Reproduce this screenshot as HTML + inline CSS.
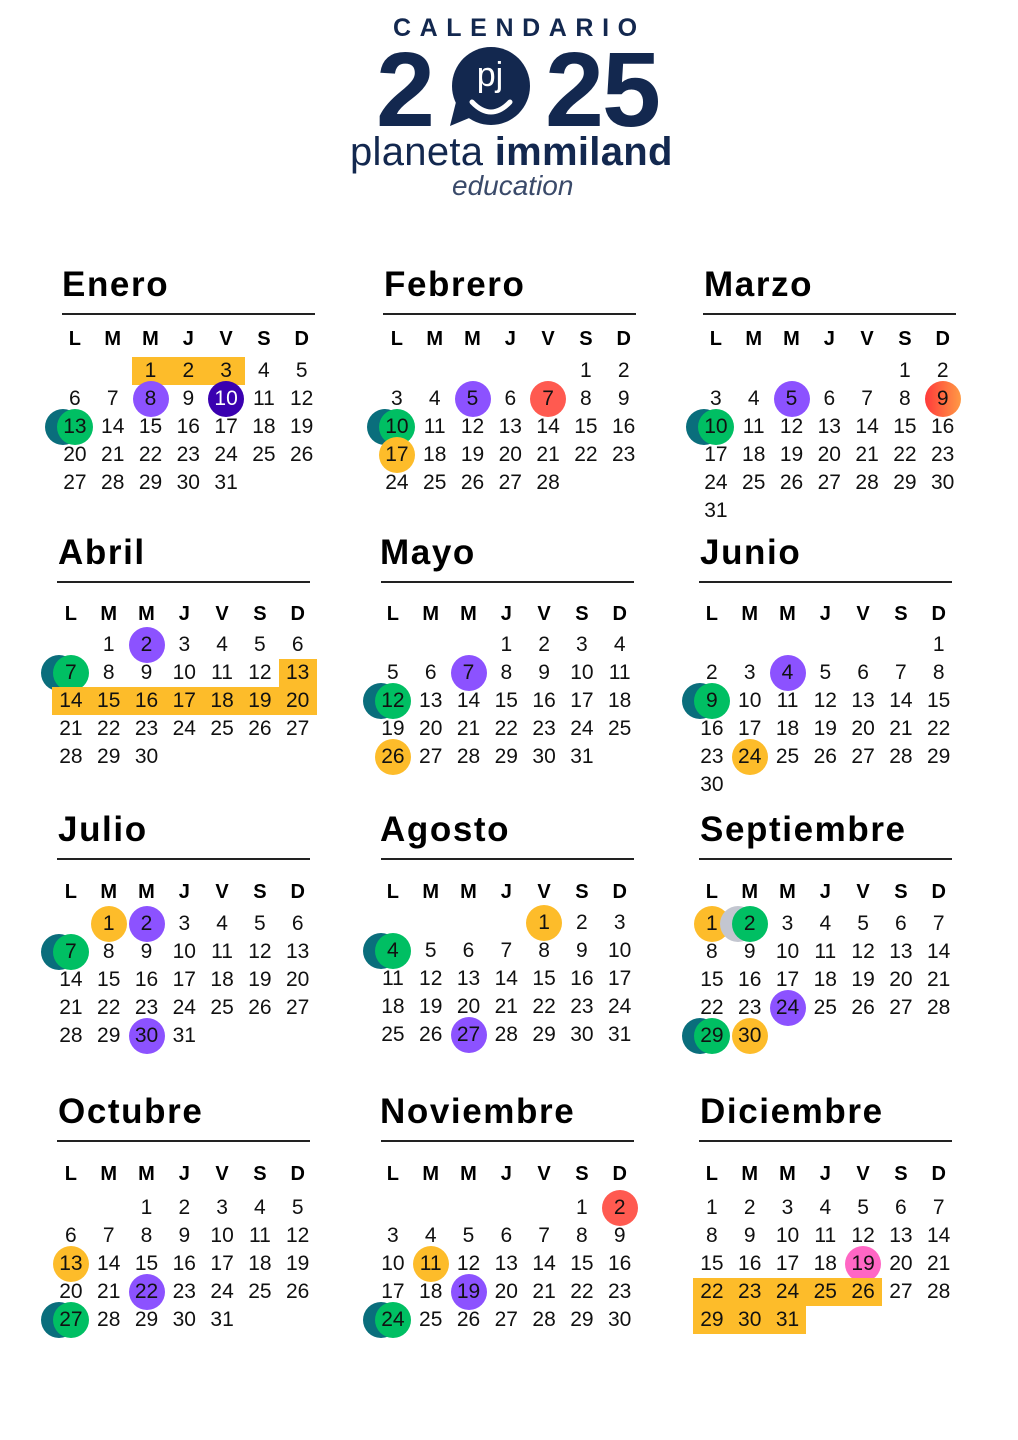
<!DOCTYPE html>
<html><head><meta charset="utf-8"><style>
*{margin:0;padding:0;box-sizing:border-box}
body{width:1018px;height:1440px;background:#fff;position:relative;overflow:hidden;font-family:"Liberation Sans",sans-serif;color:#111}
.m{position:absolute;width:266px}
.t{position:absolute;top:-46px;font-weight:bold;font-size:35px;line-height:36px;color:#000;letter-spacing:1.6px}
.ln{position:absolute;top:0;width:253px;height:2px;background:#222}
.h,.g{position:absolute;left:0;display:grid;grid-template-columns:repeat(7,37.8px)}
.h span{height:28px;line-height:28px;text-align:center;font-weight:bold;font-size:20px;color:#000}
.g{grid-auto-rows:28px}
.g span{position:relative;height:28px;line-height:28px;text-align:center;font-size:21px;color:#111;z-index:1}
.g span.c::before{content:"";position:absolute;left:1px;top:-4px;width:36px;height:36px;border-radius:50%;background:var(--b);z-index:-1}
.p{--b:#8c52ff}.dp{--b:#3a00b0;color:#fff!important}.y{--b:#fdbc2a}.r{--b:#ff5a50}
.o{--b:linear-gradient(90deg,#ff3a3a,#ff9a45)}.pk{--b:#ff66c4}
.gr{--b:#00bf63}.gr::before{box-shadow:-12px 0 0 #0a6e7c}
.gg{--b:#00bf63}.gg::before{box-shadow:-12px 0 0 #c3c6d0}
.g span.yb{background:#fdbc2a}
.logo{position:absolute;color:#13284f;font-weight:bold}
</style></head><body>

<div class="logo" style="left:393px;top:14px;font-size:25px;letter-spacing:8.6px;line-height:28px">CALENDARIO</div>
<div class="logo" style="left:376px;top:37px;font-size:106px;line-height:106px;letter-spacing:-2px">2</div>
<div class="logo" style="left:545px;top:37px;font-size:106px;line-height:106px;letter-spacing:-2px">25</div>
<svg style="position:absolute;left:446px;top:42px" width="90" height="90" viewBox="0 0 90 90">
<circle cx="45" cy="44" r="39" fill="#13284f"/><path d="M10 60 L4 84 L28 74 Z" fill="#13284f"/>
<path d="M26 60 Q45 80 64 60" stroke="#fff" stroke-width="5" fill="none" stroke-linecap="round"/>
<text x="44" y="44" font-family="Liberation Sans,sans-serif" font-size="34" fill="#fff" text-anchor="middle">pj</text></svg>
<div class="logo" style="left:350px;top:130px;font-size:40px;line-height:44px;font-weight:normal;letter-spacing:0.3px">planeta <b>immiland</b></div>
<div class="logo" style="left:452px;top:170px;font-size:28px;line-height:32px;font-weight:normal;font-style:italic;color:#3a4a6a">education</div>

<!-- Row 1 -->
<div class="m" style="left:56px;top:313px"><div class="t" style="left:6px">Enero</div><div class="ln" style="left:6px"></div>
<div class="h" style="top:12px"><span>L</span><span>M</span><span>M</span><span>J</span><span>V</span><span>S</span><span>D</span></div>
<div class="g" style="top:44px"><span></span><span></span><span class="yb">1</span><span class="yb">2</span><span class="yb">3</span><span>4</span><span>5</span>
<span>6</span><span>7</span><span class="c p">8</span><span>9</span><span class="c dp">10</span><span>11</span><span>12</span>
<span class="c gr">13</span><span>14</span><span>15</span><span>16</span><span>17</span><span>18</span><span>19</span>
<span>20</span><span>21</span><span>22</span><span>23</span><span>24</span><span>25</span><span>26</span>
<span>27</span><span>28</span><span>29</span><span>30</span><span>31</span></div></div>

<div class="m" style="left:378px;top:313px"><div class="t" style="left:6px">Febrero</div><div class="ln" style="left:5px"></div>
<div class="h" style="top:12px"><span>L</span><span>M</span><span>M</span><span>J</span><span>V</span><span>S</span><span>D</span></div>
<div class="g" style="top:44px"><span></span><span></span><span></span><span></span><span></span><span>1</span><span>2</span>
<span>3</span><span>4</span><span class="c p">5</span><span>6</span><span class="c r">7</span><span>8</span><span>9</span>
<span class="c gr">10</span><span>11</span><span>12</span><span>13</span><span>14</span><span>15</span><span>16</span>
<span class="c y">17</span><span>18</span><span>19</span><span>20</span><span>21</span><span>22</span><span>23</span>
<span>24</span><span>25</span><span>26</span><span>27</span><span>28</span></div></div>

<div class="m" style="left:697px;top:313px"><div class="t" style="left:7px">Marzo</div><div class="ln" style="left:6px"></div>
<div class="h" style="top:12px"><span>L</span><span>M</span><span>M</span><span>J</span><span>V</span><span>S</span><span>D</span></div>
<div class="g" style="top:44px"><span></span><span></span><span></span><span></span><span></span><span>1</span><span>2</span>
<span>3</span><span>4</span><span class="c p">5</span><span>6</span><span>7</span><span>8</span><span class="c o">9</span>
<span class="c gr">10</span><span>11</span><span>12</span><span>13</span><span>14</span><span>15</span><span>16</span>
<span>17</span><span>18</span><span>19</span><span>20</span><span>21</span><span>22</span><span>23</span>
<span>24</span><span>25</span><span>26</span><span>27</span><span>28</span><span>29</span><span>30</span>
<span>31</span></div></div>

<!-- Row 2 -->
<div class="m" style="left:52px;top:581px"><div class="t" style="left:6px">Abril</div><div class="ln" style="left:5px"></div>
<div class="h" style="top:19px"><span>L</span><span>M</span><span>M</span><span>J</span><span>V</span><span>S</span><span>D</span></div>
<div class="g" style="top:50px"><span></span><span>1</span><span class="c p">2</span><span>3</span><span>4</span><span>5</span><span>6</span>
<span class="c gr">7</span><span>8</span><span>9</span><span>10</span><span>11</span><span>12</span><span class="yb">13</span>
<span class="yb">14</span><span class="yb">15</span><span class="yb">16</span><span class="yb">17</span><span class="yb">18</span><span class="yb">19</span><span class="yb">20</span>
<span>21</span><span>22</span><span>23</span><span>24</span><span>25</span><span>26</span><span>27</span>
<span>28</span><span>29</span><span>30</span></div></div>

<div class="m" style="left:374px;top:581px"><div class="t" style="left:6px">Mayo</div><div class="ln" style="left:7px"></div>
<div class="h" style="top:19px"><span>L</span><span>M</span><span>M</span><span>J</span><span>V</span><span>S</span><span>D</span></div>
<div class="g" style="top:50px"><span></span><span></span><span></span><span>1</span><span>2</span><span>3</span><span>4</span>
<span>5</span><span>6</span><span class="c p">7</span><span>8</span><span>9</span><span>10</span><span>11</span>
<span class="c gr">12</span><span>13</span><span>14</span><span>15</span><span>16</span><span>17</span><span>18</span>
<span>19</span><span>20</span><span>21</span><span>22</span><span>23</span><span>24</span><span>25</span>
<span class="c y">26</span><span>27</span><span>28</span><span>29</span><span>30</span><span>31</span></div></div>

<div class="m" style="left:693px;top:581px"><div class="t" style="left:7px">Junio</div><div class="ln" style="left:6px"></div>
<div class="h" style="top:19px"><span>L</span><span>M</span><span>M</span><span>J</span><span>V</span><span>S</span><span>D</span></div>
<div class="g" style="top:50px"><span></span><span></span><span></span><span></span><span></span><span></span><span>1</span>
<span>2</span><span>3</span><span class="c p">4</span><span>5</span><span>6</span><span>7</span><span>8</span>
<span class="c gr">9</span><span>10</span><span>11</span><span>12</span><span>13</span><span>14</span><span>15</span>
<span>16</span><span>17</span><span>18</span><span>19</span><span>20</span><span>21</span><span>22</span>
<span>23</span><span class="c y">24</span><span>25</span><span>26</span><span>27</span><span>28</span><span>29</span>
<span>30</span></div></div>

<!-- Row 3 -->
<div class="m" style="left:52px;top:858px"><div class="t" style="left:6px">Julio</div><div class="ln" style="left:5px"></div>
<div class="h" style="top:20px"><span>L</span><span>M</span><span>M</span><span>J</span><span>V</span><span>S</span><span>D</span></div>
<div class="g" style="top:52px"><span></span><span class="c y">1</span><span class="c p">2</span><span>3</span><span>4</span><span>5</span><span>6</span>
<span class="c gr">7</span><span>8</span><span>9</span><span>10</span><span>11</span><span>12</span><span>13</span>
<span>14</span><span>15</span><span>16</span><span>17</span><span>18</span><span>19</span><span>20</span>
<span>21</span><span>22</span><span>23</span><span>24</span><span>25</span><span>26</span><span>27</span>
<span>28</span><span>29</span><span class="c p">30</span><span>31</span></div></div>

<div class="m" style="left:374px;top:858px"><div class="t" style="left:6px">Agosto</div><div class="ln" style="left:7px"></div>
<div class="h" style="top:20px"><span>L</span><span>M</span><span>M</span><span>J</span><span>V</span><span>S</span><span>D</span></div>
<div class="g" style="top:51px"><span></span><span></span><span></span><span></span><span class="c y">1</span><span>2</span><span>3</span>
<span class="c gr">4</span><span>5</span><span>6</span><span>7</span><span>8</span><span>9</span><span>10</span>
<span>11</span><span>12</span><span>13</span><span>14</span><span>15</span><span>16</span><span>17</span>
<span>18</span><span>19</span><span>20</span><span>21</span><span>22</span><span>23</span><span>24</span>
<span>25</span><span>26</span><span class="c p">27</span><span>28</span><span>29</span><span>30</span><span>31</span></div></div>

<div class="m" style="left:693px;top:858px"><div class="t" style="left:7px">Septiembre</div><div class="ln" style="left:6px"></div>
<div class="h" style="top:20px"><span>L</span><span>M</span><span>M</span><span>J</span><span>V</span><span>S</span><span>D</span></div>
<div class="g" style="top:52px"><span class="c y">1</span><span class="c gg">2</span><span>3</span><span>4</span><span>5</span><span>6</span><span>7</span>
<span>8</span><span>9</span><span>10</span><span>11</span><span>12</span><span>13</span><span>14</span>
<span>15</span><span>16</span><span>17</span><span>18</span><span>19</span><span>20</span><span>21</span>
<span>22</span><span>23</span><span class="c p">24</span><span>25</span><span>26</span><span>27</span><span>28</span>
<span class="c gr">29</span><span class="c y">30</span></div></div>

<!-- Row 4 -->
<div class="m" style="left:52px;top:1140px"><div class="t" style="left:6px">Octubre</div><div class="ln" style="left:5px"></div>
<div class="h" style="top:20px"><span>L</span><span>M</span><span>M</span><span>J</span><span>V</span><span>S</span><span>D</span></div>
<div class="g" style="top:54px"><span></span><span></span><span>1</span><span>2</span><span>3</span><span>4</span><span>5</span>
<span>6</span><span>7</span><span>8</span><span>9</span><span>10</span><span>11</span><span>12</span>
<span class="c y">13</span><span>14</span><span>15</span><span>16</span><span>17</span><span>18</span><span>19</span>
<span>20</span><span>21</span><span class="c p">22</span><span>23</span><span>24</span><span>25</span><span>26</span>
<span class="c gr">27</span><span>28</span><span>29</span><span>30</span><span>31</span></div></div>

<div class="m" style="left:374px;top:1140px"><div class="t" style="left:6px">Noviembre</div><div class="ln" style="left:7px"></div>
<div class="h" style="top:20px"><span>L</span><span>M</span><span>M</span><span>J</span><span>V</span><span>S</span><span>D</span></div>
<div class="g" style="top:54px"><span></span><span></span><span></span><span></span><span></span><span>1</span><span class="c r">2</span>
<span>3</span><span>4</span><span>5</span><span>6</span><span>7</span><span>8</span><span>9</span>
<span>10</span><span class="c y">11</span><span>12</span><span>13</span><span>14</span><span>15</span><span>16</span>
<span>17</span><span>18</span><span class="c p">19</span><span>20</span><span>21</span><span>22</span><span>23</span>
<span class="c gr">24</span><span>25</span><span>26</span><span>27</span><span>28</span><span>29</span><span>30</span></div></div>

<div class="m" style="left:693px;top:1140px"><div class="t" style="left:7px">Diciembre</div><div class="ln" style="left:6px"></div>
<div class="h" style="top:20px"><span>L</span><span>M</span><span>M</span><span>J</span><span>V</span><span>S</span><span>D</span></div>
<div class="g" style="top:54px"><span>1</span><span>2</span><span>3</span><span>4</span><span>5</span><span>6</span><span>7</span>
<span>8</span><span>9</span><span>10</span><span>11</span><span>12</span><span>13</span><span>14</span>
<span>15</span><span>16</span><span>17</span><span>18</span><span class="c pk">19</span><span>20</span><span>21</span>
<span class="yb">22</span><span class="yb">23</span><span class="yb">24</span><span class="yb">25</span><span class="yb">26</span><span>27</span><span>28</span>
<span class="yb">29</span><span class="yb">30</span><span class="yb">31</span></div></div>

</body></html>
